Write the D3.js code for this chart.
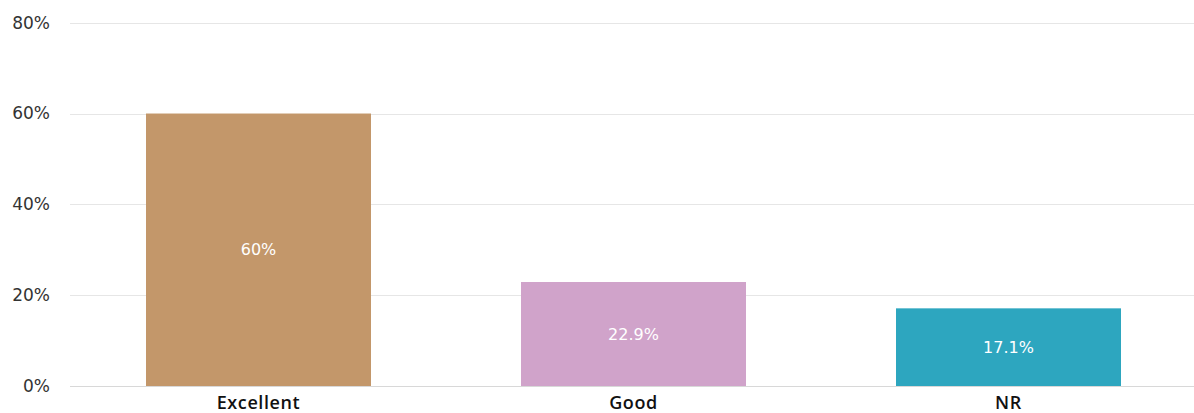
<!DOCTYPE html>
<html>
<head>
<meta charset="utf-8">
<script src="https://cdn.jsdelivr.net/npm/d3@7"></script>
<style>
  body { margin: 0; background: #fff; }
  .y.axis text { font-family: "DejaVu Sans", sans-serif; font-size: 17px; fill: #333; }
  .x.axis text { font-family: "Open Sans", sans-serif; font-size: 18px; font-weight: 600; fill: #111; letter-spacing: 0.6px; }
  .bar-label { font-family: "DejaVu Sans", sans-serif; font-size: 16px; fill: #fff; }
</style>
</head>
<body>
<div id="chart"></div>
<script>
var categories = ["Excellent", "Good", "NR"];
var values = [60, 22.9, 17.1];
var labels = ["60%", "22.9%", "17.1%"];
var colors = ["#C3976A", "#D0A3CA", "#2DA6BF"];
var yTicks = [0, 20, 40, 60, 80];

var width = 1194, height = 413;

var svg = d3.select("#chart").append("svg")
    .attr("width", width)
    .attr("height", height);

var x = d3.scaleBand()
    .domain(categories)
    .range([71, 1196])
    .paddingInner(0.4)
    .paddingOuter(0.2);

var y = d3.scaleLinear()
    .domain([0, 80])
    .range([386, 22.7]);

// gridlines
svg.append("g")
    .selectAll("line")
    .data(yTicks)
    .enter().append("line")
    .attr("x1", 70)
    .attr("x2", width)
    .attr("y1", function(d){ return Math.round(y(d)) + 0.5; })
    .attr("y2", function(d){ return Math.round(y(d)) + 0.5; })
    .attr("stroke", function(d){ return d === 0 ? "#d8d8d8" : "#e6e6e6"; })
    .attr("stroke-width", 1);

var y_axis = d3.axisLeft(y)
    .tickValues(yTicks)
    .tickSize(0)
    .tickPadding(0)
    .tickFormat(function(d){ return d + "%"; });

svg.append("g")
    .attr("class", "y axis")
    .attr("transform", "translate(50,0)")
    .call(y_axis)
    .call(function(g){ g.select(".domain").remove(); });

svg.append("g")
    .selectAll("rect")
    .data(values)
    .enter().append("rect")
    .attr("x", function(d, i){ return x(categories[i]); })
    .attr("y", function(d){ return y(d); })
    .attr("width", x.bandwidth())
    .attr("height", function(d){ return y(0) - y(d); })
    .attr("fill", function(d, i){ return colors[i]; });

svg.append("g")
    .selectAll("text")
    .data(values)
    .enter().append("text")
    .attr("class", "bar-label")
    .attr("x", function(d, i){ return x(categories[i]) + x.bandwidth() / 2; })
    .attr("y", function(d){ return (y(d) + y(0)) / 2; })
    .attr("dy", "0.35em")
    .attr("text-anchor", "middle")
    .text(function(d, i){ return labels[i]; });

var x_axis = d3.axisBottom(x).tickSize(0).tickPadding(10);

svg.append("g")
    .attr("class", "x axis")
    .attr("transform", "translate(0," + y(0) + ")")
    .call(x_axis)
    .call(function(g){ g.select(".domain").remove(); });
</script>
</body>
</html>
